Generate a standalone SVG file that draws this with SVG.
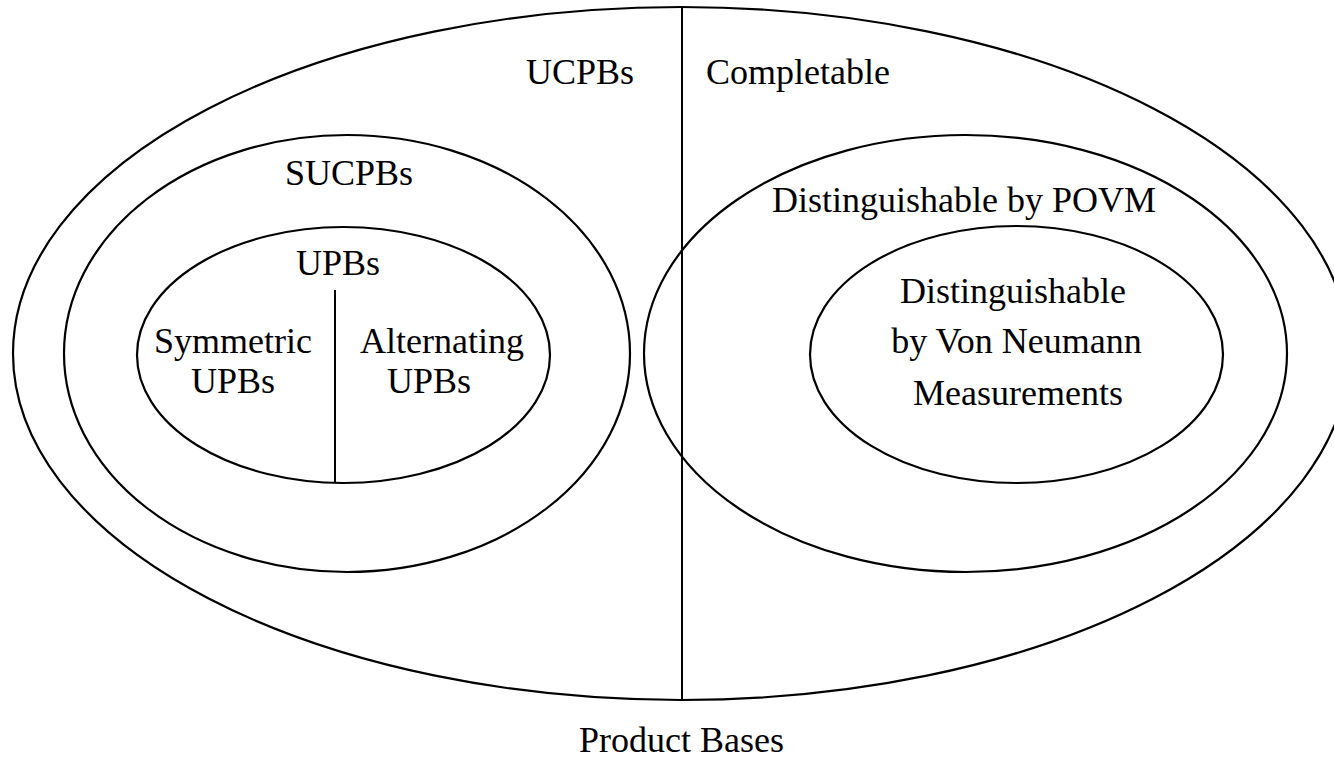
<svg xmlns="http://www.w3.org/2000/svg" width="1334" height="758" viewBox="0 0 1334 758">
<style>
.s{fill:none;stroke:#000;stroke-width:2.2}
.l{stroke:#000;stroke-width:2}
text{font-family:"Liberation Serif","Times New Roman",serif;font-size:36px;fill:#000}
.m{text-anchor:middle}
.e{text-anchor:end}
</style>
<rect width="1334" height="758" fill="#fff"/>
<g id="product-bases">
<ellipse class="s" cx="681" cy="353.5" rx="668" ry="346.5"/>
<text class="m" x="681.5" y="752">Product Bases</text>
</g>
<g id="ucpbs">
<text class="e" x="634" y="84">UCPBs</text>
</g>
<g id="completable">
<text x="706" y="84">Completable</text>
</g>
<g id="sucpbs">
<ellipse class="s" cx="347" cy="353.5" rx="283" ry="218.5"/>
<text class="m" x="349" y="185">SUCPBs</text>
</g>
<g id="upbs">
<ellipse class="s" cx="343.5" cy="355" rx="206.5" ry="128"/>
<text class="m" x="338" y="275">UPBs</text>
</g>
<g id="symmetric">
<text class="m" x="233" y="353">Symmetric</text>
<text class="m" x="233" y="393">UPBs</text>
</g>
<g id="alternating">
<text class="m" x="442" y="353">Alternating</text>
<text class="m" x="429" y="393">UPBs</text>
</g>
<g id="povm">
<ellipse class="s" cx="965.5" cy="353.5" rx="321.5" ry="218.5"/>
<text class="m" x="964" y="212">Distinguishable by POVM</text>
</g>
<g id="von-neumann">
<ellipse class="s" cx="1016.5" cy="354.5" rx="206.5" ry="128.5"/>
<text class="m" x="1013" y="303">Distinguishable</text>
<text class="m" x="1016.5" y="353">by Von Neumann</text>
<text class="m" x="1018" y="405">Measurements</text>
</g>
<g id="connectors">
<line class="l" x1="682" y1="7" x2="682" y2="700"/>
<line class="l" x1="335" y1="290" x2="335" y2="483"/>
</g>
</svg>
